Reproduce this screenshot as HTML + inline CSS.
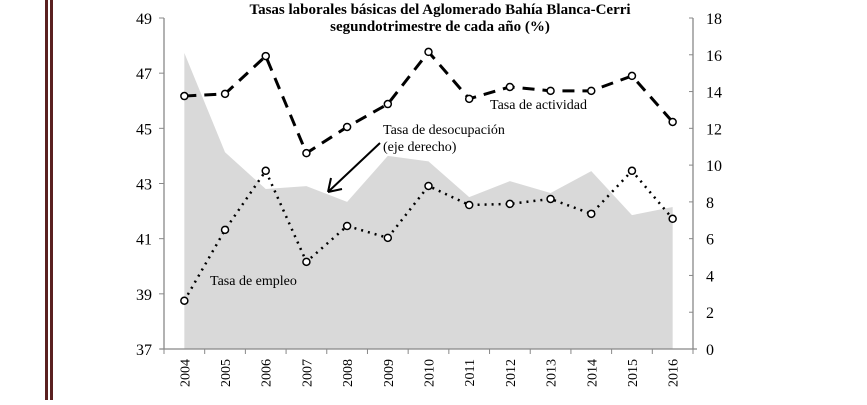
<!DOCTYPE html>
<html><head><meta charset="utf-8"><style>
body{margin:0;background:#fff;}
svg text{font-family:"Liberation Serif",serif;}
</style></head><body>
<svg width="867" height="400" xmlns="http://www.w3.org/2000/svg">
<rect x="45" y="0" width="3" height="400" fill="#5a2020"/>
<rect x="50" y="0" width="3" height="400" fill="#5a2020"/>
<text x="440" y="14" text-anchor="middle" font-weight="bold" font-size="15">Tasas laborales básicas del Aglomerado Bahía Blanca-Cerri</text>
<text x="440" y="31" text-anchor="middle" font-weight="bold" font-size="15">segundotrimestre de cada año (%)</text>
<g id="g"></g>
</svg>
<script>
const years=["2004","2005","2006","2007","2008","2009","2010","2011","2012","2013","2014","2015","2016"];
const actividad=[46.17,46.25,47.62,44.1,45.05,45.88,47.77,46.07,46.5,46.36,46.36,46.9,45.23];
const empleo=[38.75,41.32,43.46,40.16,41.46,41.03,42.91,42.22,42.26,42.44,41.9,43.46,41.72];
const desocupacion=[16.1,10.7,8.7,8.86,8.0,10.5,10.2,8.26,9.13,8.48,9.67,7.28,7.72];
const leftTicks=[37,39,41,43,45,47,49];
const rightTicks=[0,2,4,6,8,10,12,14,16,18];
const NS="http://www.w3.org/2000/svg";
const g=document.getElementById('g');
const X0=164,X1=693,Y0=18,Y1=349;
const bw=(X1-X0)/years.length;
const x=i=>X0+bw*(i+0.5);
const yl=v=>Y1-(v-37)/(49-37)*(Y1-Y0);
const yr=v=>Y1-v/18*(Y1-Y0);
function mk(t,a){const e=document.createElementNS(NS,t);for(const k in a)e.setAttribute(k,a[k]);g.appendChild(e);return e;}
let d=`M${x(0)},${Y1}`;desocupacion.forEach((v,i)=>d+=` L${x(i)},${yr(v)}`);d+=` L${x(years.length-1)},${Y1} Z`;
const area=mk('path',{d,fill:'#d9d9d9'});


const la=mk('line',{x1:X0,y1:Y0,x2:X0,y2:Y1,stroke:'#888','stroke-width':1.3});


const ra=mk('line',{x1:X1,y1:Y0,x2:X1,y2:Y1,stroke:'#888','stroke-width':1.3});


const xa=mk('line',{x1:X0-4,y1:Y1,x2:X1+4,y2:Y1,stroke:'#888','stroke-width':1.3});


leftTicks.forEach(v=>{mk('line',{x1:X0-5,y1:yl(v),x2:X0,y2:yl(v),stroke:'#888'});
const t=mk('text',{x:X0-12,y:yl(v)+6,'text-anchor':'end','font-size':16});t.textContent=v;

});
rightTicks.forEach(v=>{mk('line',{x1:X1-4,y1:yr(v),x2:X1,y2:yr(v),stroke:'#888'});
const t=mk('text',{x:X1+13,y:yr(v)+6,'font-size':16});t.textContent=v;

});
for(let i=0;i<=years.length;i++)mk('line',{x1:X0+bw*i,y1:Y1,x2:X0+bw*i,y2:Y1+5,stroke:'#888'});
years.forEach((yy,i)=>{const t=mk('text',{x:0,y:0,'font-size':14,'text-anchor':'end',transform:`translate(${x(i)+5},${Y1+10}) rotate(-90)`});t.textContent=yy;

});
const pa=mk('polyline',{points:actividad.map((v,i)=>x(i)+','+yl(v)).join(' '),fill:'none',stroke:'#000','stroke-width':3,'stroke-dasharray':'12,8'});


const pe=mk('polyline',{points:empleo.map((v,i)=>x(i)+','+yl(v)).join(' '),fill:'none',stroke:'#000','stroke-width':2.5,'stroke-dasharray':'2,5'});


actividad.forEach((v,i)=>{const c=mk('circle',{cx:x(i),cy:yl(v),r:3.5,fill:'#fff',stroke:'#000','stroke-width':1.5});

});
empleo.forEach((v,i)=>{const c=mk('circle',{cx:x(i),cy:yl(v),r:3.5,fill:'#fff',stroke:'#000','stroke-width':1.5});

});
function lab(s,xx,yy,n){const t=mk('text',{x:xx,y:yy,'font-size':14});t.textContent=s;

}
lab('Tasa de actividad',490,109,'actividad-label');
lab('Tasa de empleo',210,285,'empleo-label');
lab('Tasa de desocupación',383,134,'desocupacion-label');
lab('(eje derecho)',383,151,'desocupacion-label-sub');
const ar=mk('path',{d:'M380,143 L328,192 M328,192 L331,178 M328,192 L342,189',stroke:'#000','stroke-width':2,fill:'none'});


</script>
</body></html>
